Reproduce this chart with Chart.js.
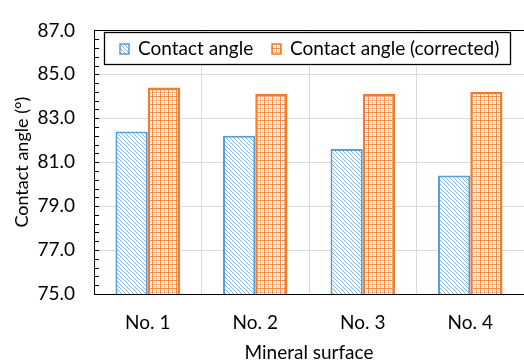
<!DOCTYPE html>
<html>
<head>
<meta charset="utf-8">
<script src="https://cdn.jsdelivr.net/npm/chart.js@4/dist/chart.umd.min.js"></script>
<style>
  html, body { margin: 0; padding: 0; background: #fff; }
  #wrap { width: 524px; height: 362px; }
</style>
</head>
<body>
<div id="wrap"><canvas id="bars"></canvas></div>
<script>
const categories = ['No. 1', 'No. 2', 'No. 3', 'No. 4'];
const contactAngle = [82.4, 82.2, 81.6, 80.4];
const contactAngleCorrected = [84.4, 84.1, 84.1, 84.2];
const seriesNames = ['Contact angle', 'Contact angle (corrected)'];
const yMin = 75, yMax = 87, yStep = 2, yMinorStep = 0.4;

const FONT = 'Lato, "Liberation Sans", sans-serif';

// hatch pattern for the blue bars (diagonal lines)
function hatchBlue() {
  const c = document.createElement('canvas');
  c.width = 4; c.height = 4;
  const g = c.getContext('2d');
  g.fillStyle = '#fff';
  g.fillRect(0, 0, 4, 4);
  g.fillStyle = 'rgba(91,155,213,0.75)';
  for (let i = 0; i < 4; i++) g.fillRect(i, i, 1, 1);
  return g.createPattern(c, 'repeat');
}

// lattice pattern for the orange bars
function latticeOrange() {
  const c = document.createElement('canvas');
  c.width = 8; c.height = 8;
  const g = c.getContext('2d');
  g.fillStyle = '#fff';
  g.fillRect(0, 0, 8, 8);
  g.fillStyle = 'rgba(237,125,49,0.85)';
  g.fillRect(0, 0, 8, 1);
  g.fillRect(0, 0, 1, 8);
  g.fillStyle = 'rgba(237,125,49,0.55)';
  g.fillRect(0, 4, 8, 1);
  g.fillRect(4, 0, 1, 8);
  g.fillStyle = 'rgba(237,125,49,0.45)';
  g.fillRect(2, 2, 1, 1); g.fillRect(6, 2, 1, 1);
  g.fillRect(2, 6, 1, 1); g.fillRect(6, 6, 1, 1);
  return g.createPattern(c, 'repeat');
}

const blueFill = hatchBlue();
const orangeFill = latticeOrange();

// minor ticks inside the y axis + top frame line
const frame = {
  id: 'frame',
  afterDraw(chart) {
    const ctx = chart.ctx, a = chart.chartArea, y = chart.scales.y;
    ctx.save();
    ctx.strokeStyle = '#000';
    ctx.lineWidth = 1;
    ctx.beginPath();
    ctx.moveTo(a.left, Math.round(a.top) + 0.5);
    ctx.lineTo(a.right, Math.round(a.top) + 0.5);
    for (let v = yMin; v <= yMax + 0.001; v += yMinorStep) {
      const py = Math.round(y.getPixelForValue(v)) + 0.5;
      ctx.moveTo(a.left, py);
      ctx.lineTo(a.left + 5, py);
    }
    ctx.stroke();
    ctx.restore();
  }
};

// boxed legend drawn inside the plot
const boxLegend = {
  id: 'boxLegend',
  afterDraw(chart) {
    const ctx = chart.ctx;
    const bx = 104, by = 32, bw = 406, bh = 32;
    ctx.save();
    ctx.fillStyle = '#fff';
    ctx.fillRect(bx, by, bw, bh);
    ctx.strokeStyle = '#000';
    ctx.lineWidth = 1.3;
    ctx.strokeRect(bx + 0.5, by + 0.5, bw, bh);
    ctx.font = '19px ' + FONT;
    ctx.textBaseline = 'middle';
    ctx.fillStyle = '#000';
    const xs = [120, 272];
    chart.data.datasets.forEach((ds, i) => {
      const sx = xs[i];
      ctx.fillStyle = ds.backgroundColor;
      ctx.fillRect(sx, 44, 9, 10);
      ctx.strokeStyle = ds.borderColor;
      ctx.lineWidth = 1.5;
      ctx.strokeRect(sx, 44, 9, 10);
      ctx.fillStyle = '#000';
      ctx.fillText(ds.label, sx + 18, 49);
    });
    ctx.restore();
  }
};

new Chart(document.getElementById('bars'), {
  type: 'bar',
  data: {
    labels: categories,
    datasets: [
      {
        label: seriesNames[0],
        data: contactAngle,
        backgroundColor: blueFill,
        borderColor: '#5B9BD5',
        borderWidth: 2
      },
      {
        label: seriesNames[1],
        data: contactAngleCorrected,
        backgroundColor: orangeFill,
        borderColor: '#ED7D31',
        borderWidth: 2.5
      }
    ]
  },
  options: {
    responsive: true,
    maintainAspectRatio: false,
    animation: false,
    layout: { padding: { top: 23, right: 0, bottom: 0, left: 0 } },
    datasets: { bar: { categoryPercentage: 0.6, barPercentage: 1.0 } },
    plugins: { legend: { display: false }, tooltip: { enabled: false } },
    scales: {
      x: {
        grid: { color: '#D9D9D9', drawTicks: false, offset: true },
        border: { color: '#000', width: 1 },
        ticks: { color: '#000', padding: 17, font: { family: FONT, size: 19 } },
        title: {
          display: true, text: 'Mineral surface', color: '#000',
          padding: 0, font: { family: FONT, size: 19, lineHeight: 1 }
        },
        afterFit(s) { s.height = 68; }
      },
      y: {
        min: yMin, max: yMax,
        grid: { color: '#D9D9D9', drawTicks: false },
        border: { color: '#000', width: 1 },
        ticks: {
          stepSize: yStep, color: '#000', padding: 19,
          font: { family: FONT, size: 19 },
          callback: v => Number(v).toFixed(1)
        },
        title: {
          display: true, text: 'Contact angle (°)', color: '#000',
          padding: { top: 11, bottom: 0 }, font: { family: FONT, size: 18 }
        },
        afterFit(s) { s.width = 94; }
      }
    }
  },
  plugins: [frame, boxLegend]
});
</script>
</body>
</html>
